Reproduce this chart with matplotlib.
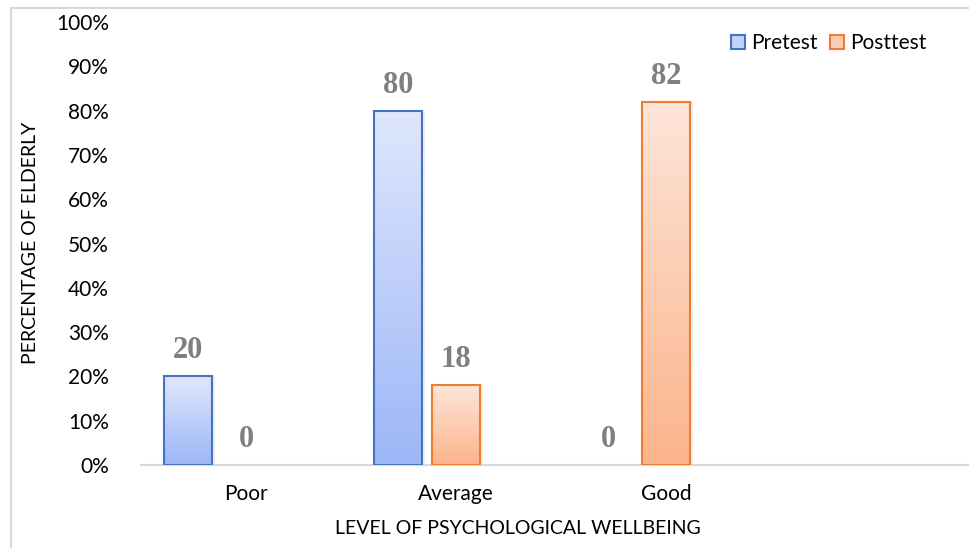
import numpy as np
import matplotlib
matplotlib.use("Agg")
import matplotlib.pyplot as plt
from matplotlib.colors import LinearSegmentedColormap
from matplotlib.patches import Patch, Rectangle

# levels of psychological wellbeing (last slot left empty)
categories = ["Poor", "Average", "Good", ""]
pretest = [20, 80, 0]
posttest = [0, 18, 82]
yticks = [0, 10, 20, 30, 40, 50, 60, 70, 80, 90, 100]

plt.rcParams['font.family'] = ['Lato', 'DejaVu Sans']

W, H = 970, 548
fig = plt.figure(figsize=(W / 100, H / 100), dpi=100)

# light grey frame round the chart
fig.patches.append(Rectangle((11 / W, -0.05), 1.2, 1 - 8 / H + 0.05,
                             transform=fig.transFigure, fill=False,
                             edgecolor='#d9d9d9', lw=1.5))

left, right = 141, 981
bottom, top = 465, 22
ax = fig.add_axes([left / W, 1 - bottom / H, (right - left) / W,
                   (bottom - top) / H])

slot = (right - left) / len(categories)
off = 58 / slot
bw = 48 / slot

blue_cm = LinearSegmentedColormap.from_list('b', ['#9cb6f7', '#dfe7fd'])
orange_cm = LinearSegmentedColormap.from_list('o', ['#fbb48b', '#fee5d9'])


def grad_bars(xs, vals, cmap, edge):
    # zero-height bars get no outline
    edges = [edge if v > 0 else 'none' for v in vals]
    bars = ax.bar(xs, vals, width=bw, facecolor='none', edgecolor=edges,
                  lw=1.5, zorder=3)
    grad = np.linspace(0, 1, 256).reshape(-1, 1)
    for b in bars:
        h = b.get_height()
        if h <= 0:
            continue
        x0 = b.get_x()
        im = ax.imshow(grad, cmap=cmap, origin='lower', aspect='auto',
                       extent=[x0, x0 + b.get_width(), 0, h], zorder=2)
        im.set_clip_path(b)
        # soft shadow on the right side
        ax.add_patch(Rectangle((x0 + b.get_width(), 0), 0.012, h,
                               facecolor='#000000', alpha=0.06,
                               lw=0, zorder=1))
    return bars


x = np.arange(len(pretest))
grad_bars(x - off, pretest, blue_cm, '#4472c4')
grad_bars(x, posttest, orange_cm, '#ed7d31')

for xs, vals in [(x - off, pretest), (x, posttest)]:
    for xi, v in zip(xs, vals):
        ax.annotate(str(v), (xi, v), xytext=(0, 13), textcoords='offset points',
                    ha='center', va='baseline', fontsize=22,
                    fontweight='bold', family='Liberation Serif',
                    color='#7f7f7f')

ax.set_xlim(-0.5, len(categories) - 0.5)
ax.set_ylim(0, 100)
ax.set_xticks(np.arange(len(categories)))
ax.set_xticklabels(categories, fontsize=15)
ax.set_yticks(yticks)
ax.set_yticklabels([f"{t}%" for t in yticks], fontsize=15)
ax.tick_params(axis='x', length=0, pad=14)
ax.tick_params(axis='y', length=0, pad=23)
for s in ['top', 'right', 'left']:
    ax.spines[s].set_visible(False)
ax.spines['bottom'].set_color('#d9d9d9')
ax.spines['bottom'].set_linewidth(1.5)
ax.patch.set_alpha(0)

fig.text(31 / W, 1 - 243 / H, "PERCENTAGE OF ELDERLY", rotation=90,
         ha='center', va='center', fontsize=14)
fig.text(518 / W, 1 - 528 / H, "LEVEL OF PSYCHOLOGICAL WELLBEING",
         ha='center', va='center', fontsize=14)

handles = [Patch(facecolor='#c2d2fb', edgecolor='#4472c4', lw=1.5),
           Patch(facecolor='#fdcbb2', edgecolor='#ed7d31', lw=1.5)]
fig.legend(handles, ["Pretest", "Posttest"], loc='center left',
           bbox_to_anchor=(723 / W, 1 - 43 / H), ncol=2, frameon=False,
           fontsize=15, handlelength=0.65, handleheight=0.65,
           handletextpad=0.3, columnspacing=0.6, borderaxespad=0)

fig.savefig("out.png", dpi=100)
